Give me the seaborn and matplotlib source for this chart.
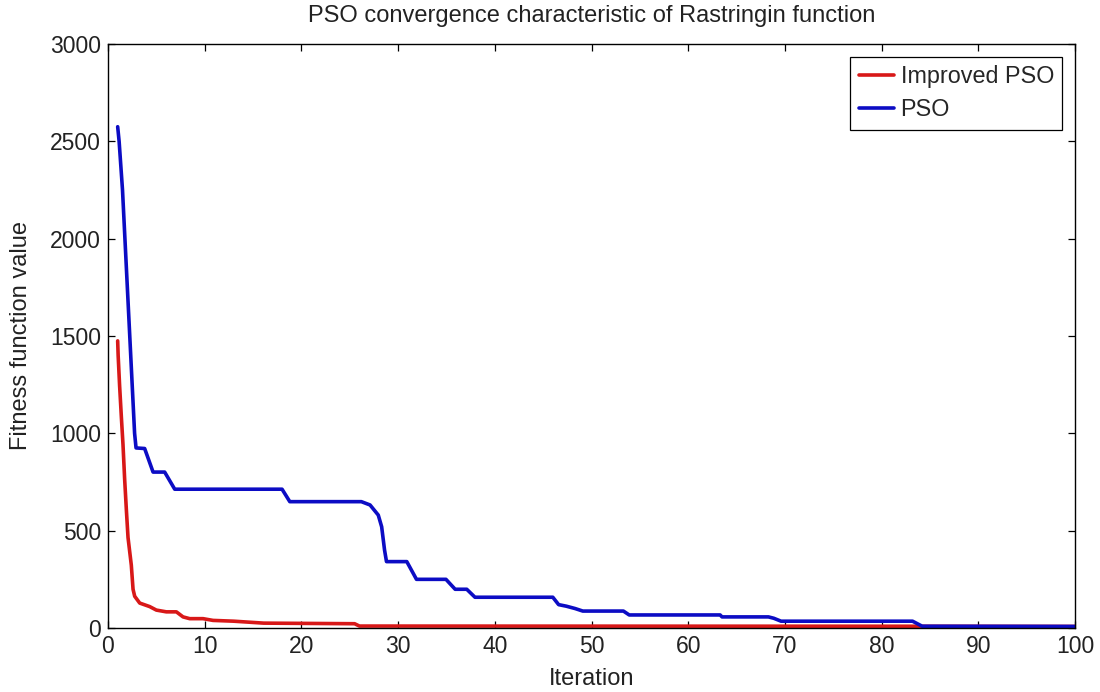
import matplotlib
matplotlib.use("Agg")
import matplotlib.pyplot as plt
from matplotlib import font_manager
import seaborn as sns
import pandas as pd

# ---- data ----
title = "PSO convergence characteristic of Rastringin function"
xlabel = "Iteration"
ylabel = "Fitness function value"

improved_iter = [1, 1.05, 1.2, 1.38, 1.55, 1.72, 1.9, 2.07, 2.41, 2.59, 2.76, 3.28,
                 4.31, 5.0, 6.03, 7.07, 7.76, 8.45, 9.83, 10.86, 13.0, 16.1, 25.5,
                 26.0, 84.0, 100]
improved_val = [1475, 1400, 1245, 1085, 943, 766, 606, 465, 323, 199, 163, 128,
                110, 92, 83, 83, 57, 48, 48, 39, 35, 25, 22,
                10, 9, 8]

pso_iter = [1, 1.15, 1.5, 1.75, 2.0, 2.25, 2.5, 2.75, 2.9, 3.79,
            4.66, 5.86, 6.9, 18.0, 18.8, 26.2, 27.1, 27.95, 28.3, 28.6, 28.8,
            30.9, 31.9, 34.95, 35.9, 37.1, 37.95, 46.0, 46.6, 47.4, 48.3, 49.1,
            53.3, 53.9, 63.3, 63.5, 68.3, 68.85, 69.6, 83.2, 84.2, 100]
pso_val = [2575, 2500, 2250, 2000, 1750, 1500, 1250, 1000, 925, 922,
           801, 801, 713, 713, 649, 649, 632, 580, 520, 400, 341,
           341, 250, 250, 199, 199, 158, 158, 120, 112, 100, 87,
           87, 67, 67, 57, 57, 50, 35, 35, 9, 8]

series_names = ["Improved PSO", "PSO"]
series_colors = ["#d81818", "#0c0cc4"]
x_ticks = list(range(0, 101, 10))
y_ticks = list(range(0, 3001, 500))

# ---- style ----
sns.set_style("ticks")
avail = {f.name for f in font_manager.fontManager.ttflist}
main_font = "Liberation Sans" if "Liberation Sans" in avail else "DejaVu Sans"
tick_font = "Liberation Sans Narrow" if "Liberation Sans Narrow" in avail else main_font
plt.rcParams["font.family"] = [main_font, "DejaVu Sans"]

fig = plt.figure(figsize=(11, 6.92), dpi=100)
fig.patch.set_facecolor("white")
ax = fig.add_axes([108 / 1100, 1 - 628 / 692, (1075 - 108) / 1100, (628 - 44) / 692])

df_imp = pd.DataFrame({"Iteration": improved_iter, "Fitness": improved_val})
df_pso = pd.DataFrame({"Iteration": pso_iter, "Fitness": pso_val})

sns.lineplot(data=df_imp, x="Iteration", y="Fitness", color=series_colors[0],
             lw=2.6, label=series_names[0], estimator=None, sort=False, ax=ax)
sns.lineplot(data=df_pso, x="Iteration", y="Fitness", color=series_colors[1],
             lw=2.6, label=series_names[1], estimator=None, sort=False, ax=ax)

ax.set_xlim(0, 100)
ax.set_ylim(0, 3000)
ax.set_xticks(x_ticks)
ax.set_yticks(y_ticks)
ax.set_xticklabels([str(t) for t in x_ticks], family=tick_font, fontsize=16.5, color="#222222")
ax.set_yticklabels([str(t) for t in y_ticks], family=tick_font, fontsize=16.5, color="#222222")
ax.tick_params(direction="in", length=5, width=0.9, top=True, right=True,
               colors="black", labelcolor="#222222", pad=5)
for s in ax.spines.values():
    s.set_visible(True)
    s.set_color("black")
    s.set_linewidth(1.0)

ax.set_title(title, fontsize=17, pad=16, color="#222222")
ax.set_xlabel(xlabel, fontsize=17, labelpad=7, color="#222222")
ax.set_ylabel(ylabel, fontsize=17, labelpad=13, color="#222222")

leg = ax.legend(loc="upper right", frameon=True, fancybox=False, fontsize=16.8,
                handlelength=1.5, handletextpad=0.3, labelspacing=0.45,
                borderaxespad=0.55, borderpad=0.35)
leg.get_frame().set_edgecolor("black")
leg.get_frame().set_linewidth(0.9)
leg.get_frame().set_alpha(1)

fig.savefig("out.png", dpi=100, facecolor="white")
